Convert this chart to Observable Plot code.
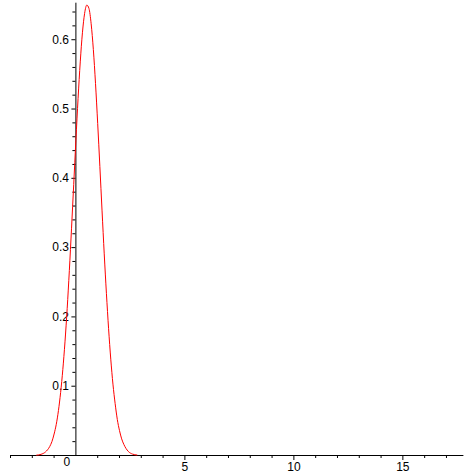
<!DOCTYPE html>
<html>
<head>
<meta charset="utf-8">
<script src="https://cdn.jsdelivr.net/npm/d3@7"></script>
<script src="https://cdn.jsdelivr.net/npm/@observablehq/plot@0.6"></script>
<style>
  html, body { margin: 0; padding: 0; background: #fff; }
  #chart { width: 474px; height: 474px; }
</style>
</head>
<body>
<div id="chart"></div>
<script>
// Curve samples
const curveX = [-1.8, -1.6, -1.4, -1.2, -1.1, -1.0, -0.9, -0.8, -0.7, -0.6, -0.5, -0.4, -0.3, -0.2, -0.1,
  0.0, 0.1, 0.2, 0.3, 0.4, 0.5, 0.6, 0.7, 0.8, 0.9, 1.0, 1.1, 1.2, 1.3, 1.4, 1.5, 1.6, 1.7, 1.8, 1.9,
  2.0, 2.1, 2.2, 2.4, 2.6, 2.8];
const curveY = [0.0005, 0.0017, 0.005, 0.013, 0.020, 0.031, 0.045, 0.065, 0.091, 0.124, 0.164, 0.212, 0.267, 0.328, 0.391,
  0.455, 0.515, 0.568, 0.610, 0.638, 0.650, 0.645, 0.623, 0.586, 0.537, 0.479, 0.417, 0.353, 0.291, 0.234, 0.183, 0.139, 0.103, 0.075, 0.052,
  0.036, 0.024, 0.016, 0.006, 0.002, 0.0007];

// Axis ticks
const xMajorTicks = [5, 10, 15];
const xMinorTicks = [-3, -2, -1, 1, 2, 3, 4, 6, 7, 8, 9, 11, 12, 13, 14, 16, 17];
const yMajorTicks = [0.1, 0.2, 0.3, 0.4, 0.5, 0.6];
const yMinorTicks = [0.02, 0.04, 0.06, 0.08, 0.12, 0.14, 0.16, 0.18, 0.22, 0.24, 0.26, 0.28,
  0.32, 0.34, 0.36, 0.38, 0.42, 0.44, 0.46, 0.48, 0.52, 0.54, 0.56, 0.58, 0.62, 0.64];
const originLabel = ["0"];

const xDomain = [-3, 17.8];
const yDomain = [0, 0.6527];

const curve = curveX.map((x, i) => ({x, y: curveY[i]}));

const chart = Plot.plot({
  width: 474,
  height: 474,
  marginLeft: 10,
  marginRight: 10.6,
  marginTop: 2.7,
  marginBottom: 19,
  x: {domain: xDomain},
  y: {domain: yDomain},
  style: {fontFamily: "'Liberation Sans', Arial, sans-serif", fontSize: "12px", background: "white", color: "black", overflow: "visible"},
  marks: [
    Plot.ruleY([0], {stroke: "black"}),
    Plot.ruleX([0], {stroke: "black"}),
    Plot.axisX({ticks: xMajorTicks, tickSize: 5, tickPadding: 2, label: null, tickFormat: d => String(d)}),
    Plot.axisX({ticks: xMinorTicks, tickSize: 3, text: null, label: null}),
    Plot.axisY({x: 0, ticks: yMajorTicks, tickSize: 4, tickPadding: 3, label: null, tickFormat: d => String(d)}),
    Plot.axisY({x: 0, ticks: yMinorTicks, tickSize: 3, text: null, label: null}),
    Plot.text(originLabel, {x: 0, y: 0, text: d => d, dx: -9, dy: 2, lineAnchor: "top", textAnchor: "middle"}),
    Plot.line(curve, {x: "x", y: "y", stroke: "red", strokeWidth: 1, curve: "monotone-x"})
  ]
});
document.getElementById("chart").appendChild(chart);
</script>
</body>
</html>
